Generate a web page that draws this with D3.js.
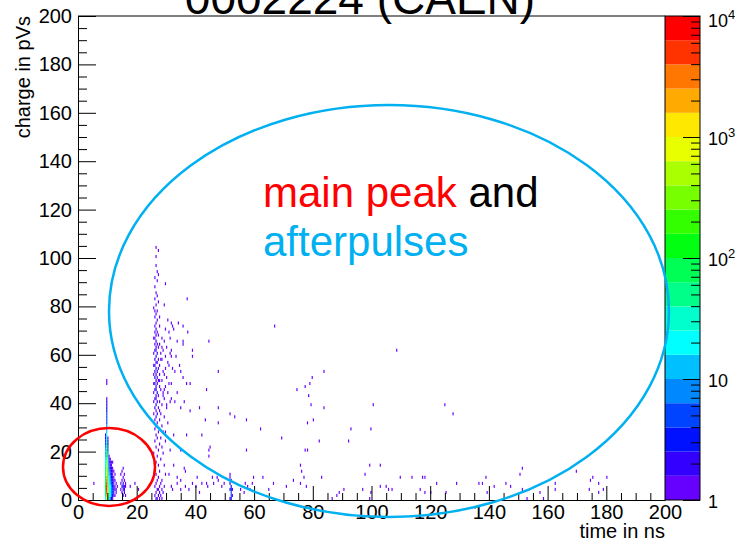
<!DOCTYPE html>
<html>
<head>
<meta charset="utf-8">
<script src="https://cdn.jsdelivr.net/npm/d3@7/dist/d3.min.js"></script>
<style>
  body { margin: 0; background: #fff; }
  svg { display: block; font-family: "Liberation Sans", Arial, Helvetica, sans-serif; }
</style>
</head>
<body>
<svg id="chart" width="735" height="541"></svg>
<script>
// Histogram binning (ns, pVs)
const timeBinWidth = 0.4;
const chargeBinWidth = 1.25;

const xMajorTicks = [0, 20, 40, 60, 80, 100, 120, 140, 160, 180, 200];
const yMajorTicks = [0, 20, 40, 60, 80, 100, 120, 140, 160, 180, 200];

// colour levels, lowest count first (0.2 decade each, 1 .. 10^4)
const colorLevels = ["#6600ff","#3300ff","#0011ff","#0044ff","#0088ff","#00c0ff","#00ffff","#00ffcc","#00ff88","#00ff55",
                     "#00ff11","#33ff00","#77ff00","#aaff00","#e8ff00","#ffe800","#ffaa00","#ff7700","#ff3300","#ff0000"];
const colorbarTickValues = [1, 10, 100, 1000, 10000];
const colorbarTickBase = ["1", "10", "10", "10", "10"];
const colorbarTickExp = ["", "", "2", "3", "4"];

// [time ns, charge pVs, entries]
const mainPeakCells = [
  [9.2,0,20],[9.2,1.25,60],[9.2,2.5,80],[9.2,3.75,90],[9.2,5,100],[9.2,6.25,90],[9.2,7.5,80],[9.2,8.75,70],
  [9.2,10,60],[9.2,11.25,50],[9.2,12.5,40],[9.2,13.75,30],[9.2,15,25],[9.2,16.25,20],[9.2,17.5,15],[9.2,18.75,12],
  [9.2,20,10],[9.2,21.25,8],[9.2,22.5,6],[9.2,23.75,4],[9.2,25,3],[9.2,26.25,2],
  [9.6,0,800],[9.6,1.25,2500],[9.6,2.5,5000],[9.6,3.75,7000],[9.6,5,6500],[9.6,6.25,4500],[9.6,7.5,3000],[9.6,8.75,2000],
  [9.6,10,1400],[9.6,11.25,900],[9.6,12.5,600],[9.6,13.75,400],[9.6,15,280],[9.6,16.25,200],[9.6,17.5,150],[9.6,18.75,110],
  [9.6,20,80],[9.6,21.25,60],[9.6,22.5,45],[9.6,23.75,30],[9.6,25,22],[9.6,26.25,16],[9.6,27.5,12],[9.6,28.75,9],
  [9.6,30,7],[9.6,31.25,6],[9.6,32.5,5],[9.6,33.75,4],[9.6,35,4],[9.6,36.25,3],[9.6,37.5,3],[9.6,38.75,2],[9.6,40,2],[9.6,41.25,1],
  [9.6,47.5,1],[9.6,48.75,1],
  [10.0,0,150],[10.0,1.25,400],[10.0,2.5,500],[10.0,3.75,450],[10.0,5,350],[10.0,6.25,250],[10.0,7.5,180],[10.0,8.75,130],
  [10.0,10,90],[10.0,11.25,70],[10.0,12.5,50],[10.0,13.75,35],[10.0,15,25],[10.0,16.25,18],[10.0,17.5,12],[10.0,18.75,9],
  [10.0,20,6],[10.0,21.25,4],[10.0,22.5,3],[10.0,23.75,2],[10.0,25,1],
  [10.4,0,20],[10.4,1.25,50],[10.4,2.5,60],[10.4,3.75,55],[10.4,5,45],[10.4,6.25,35],[10.4,7.5,25],[10.4,8.75,18],
  [10.4,10,12],[10.4,11.25,8],[10.4,12.5,6],[10.4,13.75,4],[10.4,15,3],[10.4,16.25,2],[10.4,17.5,1],
  [10.8,0,8],[10.8,1.25,18],[10.8,2.5,22],[10.8,3.75,20],[10.8,5,16],[10.8,6.25,12],[10.8,7.5,9],[10.8,8.75,7],
  [10.8,10,5],[10.8,11.25,4],[10.8,12.5,3],[10.8,13.75,2],[10.8,15,2],[10.8,16.25,1],
  [11.2,0,3],[11.2,1.25,7],[11.2,2.5,9],[11.2,3.75,8],[11.2,5,7],[11.2,6.25,6],[11.2,7.5,4],[11.2,8.75,3],
  [11.2,10,3],[11.2,11.25,2],[11.2,12.5,2],[11.2,13.75,1],[11.2,15,1],
  [11.6,0,1],[11.6,1.25,3],[11.6,2.5,4],[11.6,3.75,4],[11.6,5,3],[11.6,6.25,3],[11.6,7.5,2],[11.6,8.75,2],
  [11.6,10,1],[11.6,11.25,1],[11.6,12.5,1],[11.6,15,1],
  [12.0,1.25,1],[12.0,2.5,2],[12.0,3.75,2],[12.0,5,2],[12.0,6.25,1],[12.0,7.5,1],[12.0,8.75,1],[12.0,11.25,1],
  [12.4,1.25,1],[12.4,3.75,1],[12.4,5,1],[12.4,7.5,1],[12.4,10,1],
  [12.8,2.5,1],[12.8,3.75,1],[12.8,6.25,1],[13.2,5,1]
];

const reflectionCells = [
  [14.4,3.75,1],[14.4,6.25,1],[14.4,10,1],
  [14.8,2.5,1],[14.8,5,2],[14.8,7.5,1],[14.8,11.25,1],
  [15.2,1.25,1],[15.2,3.75,2],[15.2,5,3],[15.2,6.25,2],[15.2,8.75,1],[15.2,12.5,1],
  [15.6,2.5,2],[15.6,3.75,2],[15.6,5,1],[15.6,7.5,1],[15.6,10,1],
  [16.0,1.25,1],[16.0,5,1],[16.0,6.25,1],
  [5.2,6.25,1],[17.6,5,1],[19.2,6.25,1],[20.4,3.75,1]
];

const afterpulseCells = [
  [26.4,0,2],[26.8,0,1],[27.6,0,1],[28.4,0,1],[26.0,1.25,1],[27.2,1.25,2],[28.0,1.25,1],
  [26.4,2.5,1],[27.6,2.5,2],[28.8,2.5,1],[26.8,3.75,2],[27.2,3.75,1],[28.4,3.75,1],
  [26.0,5,1],[27.6,5,1],[29.2,5,1],[26.4,6.25,1],[28.0,6.25,1],[26.8,7.5,1],[28.4,7.5,1],
  [27.2,8.75,1],[26.4,10,1],[29.6,10,1],[27.6,11.25,1],[26.0,12.5,1],[27.2,13.75,1],[29.2,13.75,1],
  [26.4,15,1],[28.0,16.25,1],[26.8,17.5,1],[25.6,18.75,1],[28.8,18.75,1],[27.2,20,1],
  [26.4,21.25,1],[28.4,21.25,1],[27.6,22.5,1],[26.0,23.75,1],[29.6,23.75,1],[26.8,25,1],[28.0,25,1],
  [26.4,26.25,1],[27.2,27.5,1],[28.8,27.5,1],[26.0,28.75,1],[27.6,28.75,1],[26.4,30,2],[28.4,30,1],
  [26.8,31.25,1],[30.4,31.25,1],[26.0,32.5,1],[27.6,32.5,1],[26.4,33.75,2],[29.2,33.75,1],
  [25.6,35,1],[26.8,35,2],[28.0,35,1],[26.4,36.25,1],[27.6,36.25,1],[26.0,37.5,2],[27.2,37.5,1],[30.0,37.5,1],
  [26.4,38.75,3],[28.4,38.75,1],[25.6,40,1],[26.8,40,2],[27.6,40,1],[31.2,40,1],
  [26.0,41.25,2],[26.4,41.25,1],[29.2,41.25,1],[26.4,42.5,2],[27.2,42.5,1],[28.8,42.5,1],
  [25.6,43.75,1],[26.8,43.75,3],[30.4,43.75,1],[26.0,45,2],[26.4,45,2],[28.0,45,1],
  [26.4,46.25,3],[27.6,46.25,1],[29.6,46.25,1],[25.6,47.5,1],[26.0,47.5,2],[26.8,47.5,2],[31.6,47.5,1],
  [26.4,48.75,2],[27.2,48.75,1],[28.4,48.75,1],[26.0,50,3],[26.8,50,1],[30.0,50,1],
  [25.6,51.25,1],[26.4,51.25,2],[27.6,51.25,1],[29.2,51.25,1],[26.0,52.5,2],[26.8,52.5,2],[28.8,52.5,1],
  [26.4,53.75,3],[27.2,53.75,1],[32.0,53.75,1],[25.6,55,1],[26.0,55,2],[27.6,55,1],
  [26.4,56.25,2],[26.8,56.25,1],[30.4,56.25,1],[26.0,57.5,2],[27.2,57.5,1],[28.4,57.5,1],
  [26.4,58.75,3],[29.6,58.75,1],[25.6,60,1],[26.8,60,2],[28.0,60,1],[31.2,60,1],
  [26.0,61.25,2],[26.4,61.25,1],[28.8,61.25,1],[26.4,62.5,2],[27.2,62.5,1],[30.0,62.5,1],
  [26.0,63.75,1],[26.8,63.75,2],[27.6,63.75,1],[26.4,65,2],[29.2,65,1],[33.6,65,1],
  [25.6,66.25,1],[26.0,66.25,1],[28.4,66.25,1],[31.2,66.25,1],[26.4,67.5,2],[27.2,67.5,1],
  [26.0,68.75,1],[26.8,68.75,1],[30.8,68.75,1],[37.2,68.75,1],[26.4,70,2],[29.6,70,1],[32.4,70,1],
  [26.0,71.25,1],[27.6,71.25,1],[32.0,71.25,1],[35.6,71.25,1],[26.4,72.5,1],[31.6,72.5,1],[34.0,72.5,1],
  [26.8,73.75,1],[30.4,73.75,1],[26.0,75,1],[27.6,75,1],[26.4,76.25,1],[26.0,77.5,1],[26.8,77.5,1],
  [25.6,78.75,1],[26.4,80,1],[29.2,80,1],[27.2,81.25,1],[26.0,82.5,1],[37.0,82.5,1],[26.8,83.75,1],
  [26.4,85,1],[26.0,87.5,1],[29.6,88.75,1],[26.8,90,1],[26.0,91.25,1],[27.2,92.5,1],[26.8,93.75,1],
  [26.4,96.25,1],[26.4,100,1],[27.2,102.5,1],[26.4,103.75,1],
  [28.0,57.5,1],[30.8,55,1],[32.8,52.5,1],[29.6,53.75,1],[33.2,58.75,1],[28.4,62.5,1],[31.6,61.25,1],
  [34.4,55,1],[35.6,50,1],[27.6,48.75,1],[29.2,45,1],[30.8,47.5,1],[28.8,43.75,1],[31.6,41.25,1],[30.0,38.75,1],
  [35.6,65,1],[38.8,61.25,1],[35.6,63.75,1],[44.4,65,1],[31.6,58.75,1],[38.8,58.75,1]
];

const secondPulseCells = [
  [51.6,0,2],[52.0,0,3],[52.0,1.25,4],[52.0,2.5,5],[51.6,3.75,3],[52.0,3.75,3],[52.0,5,3],[52.4,3.75,2],
  [51.6,6.25,2],[52.0,7.5,2],[51.6,8.75,1],[51.6,10,1],[52.4,1.25,1]
];

const scatterCells = [
  [34.8,52.5,1],[36.8,47.5,1],[38.0,47.5,1],[43.6,45,1],[33.6,43.75,1],[32.8,40,1],[36.0,40,1],
  [41.2,37.5,1],[47.6,37.5,1],[51.6,35,1],[53.2,33.75,1],[57.2,32.5,1],[43.2,32.5,1],[38.0,36.25,1],
  [34.8,37.5,1],[47.6,31.25,1],[29.6,27.5,1],[32.4,26.25,1],[36.8,26.25,1],[42.0,26.25,1],[44.8,21.25,1],
  [34.8,20,1],[31.2,20,1],[44.4,17.5,1],[36.0,12.5,1],[36.4,11.25,1],[32.4,13.75,1],[47.6,52.5,1],
  [62.0,28.75,1],[69.2,25,1],[66.8,71.25,1],[74.4,45,1],[77.2,46.25,1],[78.8,47.5,1],[79.6,50,1],
  [83.6,52.5,1],[78.4,42.5,1],[79.2,38.75,1],[83.6,37.5,1],[78.0,31.25,1],[80.0,32.5,1],[100.4,38.75,1],
  [124.8,38.75,1],[127.6,35,1],[92.8,28.75,1],[99.6,28.75,1],[82.0,23.75,1],[92.0,23.75,1],[77.2,20,1],
  [78.0,20,1],[75.6,13.75,1],[76.0,11.25,1],[99.2,13.75,1],[102.8,13.75,1],[97.6,10,1],[151.2,12.5,1],
  [150.4,10,1],[169.6,11.25,1],[175.2,8.75,1],[180.0,8.75,1],[113.6,8.75,1],[117.2,8.75,1],[118.0,8.75,1],
  [109.6,8.75,1],[82.8,8.75,1],[138.8,8.75,1],[137.6,6.25,1],[76.8,8.75,1],[122.0,6.25,1],[128.8,6.25,1],
  [136.4,6.25,1],[141.6,5,1],[145.6,6.25,1],[147.2,5,1],[151.2,3.75,1],[157.2,2.5,1],[162.4,6.25,1],
  [162.4,3.75,1],[174.4,7.5,1],[174.0,3.75,1],[177.2,6.25,1],[177.2,2.5,1],[178.8,3.75,1],[104.8,5,1],
  [105.6,3.75,1],[106.8,3.75,1],[102.8,5,1],[96.8,3.75,1],[90.4,3.75,1],[88.8,2.5,1],[86.4,0,1],
  [88.0,1.25,1],[116.4,3.75,1],[118.0,2.5,1],[120.0,2.5,1],[125.2,2.5,1],[99.6,2.5,1],[99.2,0,1],
  [139.2,2.5,1],[152.8,0,1],[158.4,0,1],[75.6,6.25,1],[77.6,5,1],[108.4,61.25,1],
  [73.2,7.5,1],[70.8,5,1],[66.4,6.25,1],[64.8,3.75,1],[62.8,8.75,1],[59.2,6.25,1],[57.6,5,1],[56.4,2.5,1],
  [47.2,8.75,1],[42.0,6.25,1],[44.0,5,1],[40.4,8.75,1],[38.8,6.25,1],[36.4,5,1],[34.8,3.75,1],[33.6,8.75,1],
  [31.6,5,1],[30.8,10,1],[44.4,20,1],[45.6,8.75,1],[43.6,6.25,1],[46.0,6.25,1],[47.6,7.5,1],[49.6,6.25,1],
  [48.8,5,1],[33.6,6.25,1],[34.8,7.5,1],[32.0,3.75,1],[37.6,3.75,1],[40.0,5,1],[41.2,2.5,1],[55.2,3.75,1],
  [56.8,6.25,1],[58.4,3.75,1],[57.2,20,1],[59.6,8.75,1]
];

const allCells = [].concat(mainPeakCells, reflectionCells, afterpulseCells, secondPulseCells, scatterCells);

// ---- layout ----
const svg = d3.select("#chart");
const plot = { left: 78, right: 665, top: 16, bottom: 500 };
const bar = { left: 665, right: 700 };

const x = d3.scaleLinear().domain([0, 200]).range([plot.left, plot.right]);
const y = d3.scaleLinear().domain([0, 200]).range([plot.bottom, plot.top]);
const z = d3.scaleLog().domain([1, 10000]).range([plot.bottom, plot.top]);
const color = d3.scaleThreshold()
  .domain(d3.range(1, colorLevels.length).map(i => Math.pow(10, i * 0.2)))
  .range(colorLevels);

svg.append("rect").attr("width", 735).attr("height", 541).attr("fill", "#fff");

svg.append("clipPath").attr("id", "plotClip")
  .append("rect").attr("x", plot.left).attr("y", plot.top)
  .attr("width", plot.right - plot.left).attr("height", plot.bottom - plot.top);

// histogram cells
svg.append("g").attr("clip-path", "url(#plotClip)")
  .selectAll("rect").data(allCells).join("rect")
  .attr("x", d => x(d[0]))
  .attr("y", d => y(d[1] + chargeBinWidth))
  .attr("width", d => x(d[0] + timeBinWidth) - x(d[0]))
  .attr("height", d => y(d[1]) - y(d[1] + chargeBinWidth))
  .attr("fill", d => color(d[2]));

// frame
svg.append("line").attr("x1", plot.left).attr("x2", plot.right)
  .attr("y1", plot.top).attr("y2", plot.top).attr("stroke", "#000").attr("stroke-width", 1);

// axes
const yMinor = d3.range(0, 201, 5).filter(v => v % 20 !== 0);
const xMinor = d3.range(0, 201, 5).filter(v => v % 20 !== 0);

svg.append("g").attr("transform", `translate(${plot.left},0)`)
  .call(d3.axisLeft(y).tickValues(yMajorTicks).tickSizeInner(-18).tickSizeOuter(0).tickPadding(6));
svg.append("g").attr("transform", `translate(${plot.left},0)`)
  .call(d3.axisLeft(y).tickValues(yMinor).tickSizeInner(-9).tickSizeOuter(0).tickFormat(""))
  .select(".domain").remove();

svg.append("g").attr("transform", `translate(0,${plot.bottom})`)
  .call(d3.axisBottom(x).tickValues(xMajorTicks).tickSizeInner(-14).tickSizeOuter(0).tickPadding(5));
svg.append("g").attr("transform", `translate(0,${plot.bottom})`)
  .call(d3.axisBottom(x).tickValues(xMinor).tickSizeInner(-7).tickSizeOuter(0).tickFormat(""))
  .select(".domain").remove();

svg.selectAll(".tick text").attr("font-size", 20).attr("fill", "#000")
  .attr("font-family", '"Liberation Sans", Arial, sans-serif');
svg.selectAll(".domain, .tick line").attr("stroke", "#000");

// axis titles
svg.append("text").attr("x", plot.right).attr("y", 538).attr("text-anchor", "end")
  .attr("font-size", 20).text("time in ns");
svg.append("text").attr("transform", `translate(30,${plot.top}) rotate(-90)`)
  .attr("text-anchor", "end").attr("font-size", 20).text("charge in pVs");

// colour palette bar
const bandEdges = [1].concat(color.domain(), [10000]);
svg.append("g").selectAll("rect").data(colorLevels).join("rect")
  .attr("x", bar.left).attr("width", bar.right - bar.left)
  .attr("y", (c, i) => z(bandEdges[i + 1]))
  .attr("height", (c, i) => z(bandEdges[i]) - z(bandEdges[i + 1]))
  .attr("fill", c => c);
svg.append("rect").attr("x", bar.left).attr("y", plot.top)
  .attr("width", bar.right - bar.left).attr("height", plot.bottom - plot.top)
  .attr("fill", "none").attr("stroke", "#000").attr("stroke-width", 1);

const zMinor = [];
[1, 10, 100, 1000].forEach(dec => [2,3,4,5,6,7,8,9].forEach(m => zMinor.push(dec * m)));
svg.append("g").attr("transform", `translate(${bar.right},0)`)
  .call(d3.axisRight(z).tickValues(colorbarTickValues).tickSizeInner(-17).tickSizeOuter(0).tickFormat(""))
  .call(g => g.select(".domain").remove())
  .selectAll("line").attr("stroke", "#000");
svg.append("g").attr("transform", `translate(${bar.right},0)`)
  .call(d3.axisRight(z).tickValues(zMinor).tickSizeInner(-9).tickSizeOuter(0).tickFormat(""))
  .call(g => g.select(".domain").remove())
  .selectAll("line").attr("stroke", "#000");

const barLabels = svg.append("g").selectAll("text").data(colorbarTickValues).join("text")
  .attr("x", 708)
  .attr("y", v => Math.max(z(v) + 8, 27))
  .attr("font-size", 18);
barLabels.append("tspan").text((v, i) => colorbarTickBase[i]);
barLabels.append("tspan").attr("font-size", 13).attr("dy", -8).text((v, i) => colorbarTickExp[i]);

// title (runs off the top edge)
svg.append("text").attr("x", 360).attr("y", 14).attr("text-anchor", "middle")
  .attr("font-size", 46).text("0002224 (CAEN)");

// annotations
svg.append("ellipse").attr("cx", 389).attr("cy", 311).attr("rx", 280).attr("ry", 206)
  .attr("fill", "none").attr("stroke", "#00b0f0").attr("stroke-width", 2.5);
svg.append("ellipse").attr("cx", 109).attr("cy", 467).attr("rx", 46).attr("ry", 39)
  .attr("fill", "none").attr("stroke", "#ff0000").attr("stroke-width", 2.5);

const line1 = svg.append("text").attr("x", 263).attr("y", 207).attr("font-size", 42);
line1.append("tspan").attr("fill", "#ff0000").text("main peak");
line1.append("tspan").attr("fill", "#000").text(" and");
svg.append("text").attr("x", 263).attr("y", 256).attr("font-size", 42)
  .attr("fill", "#00b0f0").text("afterpulses");
</script>
</body>
</html>
